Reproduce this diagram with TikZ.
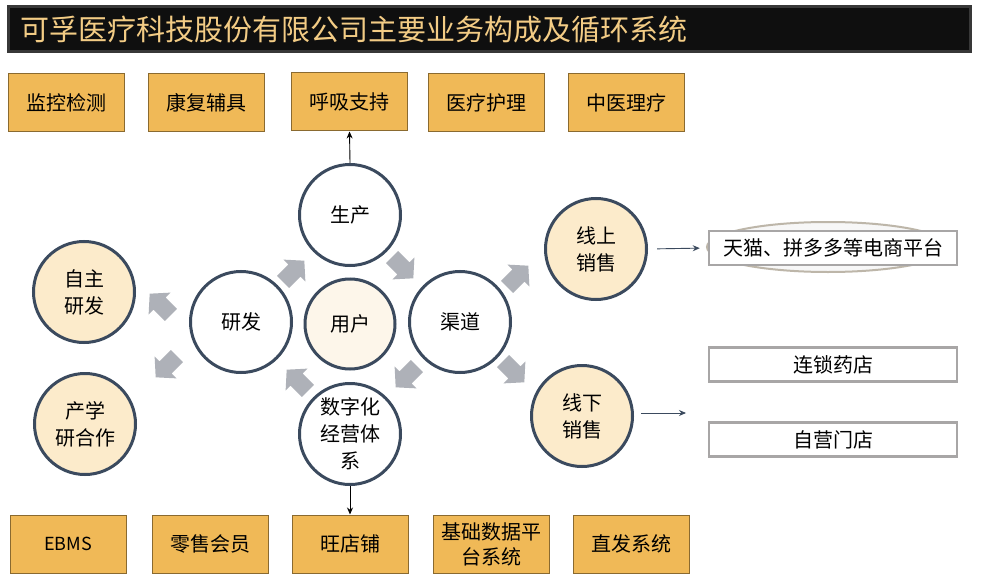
\documentclass[tikz,border=0pt]{standalone}
\usepackage{fontspec}
\newfontfamily\cjk{Noto Sans CJK SC}
\usetikzlibrary{arrows.meta,shapes.geometric}
\definecolor{boxfill}{HTML}{F0B957}
\definecolor{boxline}{HTML}{8A6A30}
\definecolor{ringline}{HTML}{3B4A5E}
\definecolor{cream}{HTML}{FCEBCB}
\definecolor{lightcream}{HTML}{FDF6EA}
\definecolor{arrowgray}{HTML}{AEB1B8}
\definecolor{titlegold}{HTML}{F3CC85}
\definecolor{framegray}{HTML}{A8A6A6}
\definecolor{ellipseline}{HTML}{BDB6A9}
\tikzset{
  orangebox/.style={draw=boxline, line width=1pt, fill=boxfill, minimum width=116pt, minimum height=58pt, inner sep=2pt, align=center, font=\cjk\fontsize{20}{24}\selectfont},
  ring/.style={circle, draw=ringline, line width=3pt, minimum size=101pt, inner sep=0pt, align=center, font=\cjk\fontsize{20}{27}\selectfont},
  whitebox/.style={draw=framegray, line width=2.5pt, fill=white, minimum width=248pt, minimum height=34pt, inner sep=0pt, font=\cjk\fontsize{20}{24}\selectfont},
  thinarrow/.style={-{Stealth[length=7pt,width=6pt]}, line width=0.9pt},
}
\newcommand\grayblock[2]{\fill[arrowgray, shift={#1}, rotate=#2] (-14,-8.5) -- (2,-8.5) -- (2,-15.5) -- (16,0) -- (2,15.5) -- (2,8.5) -- (-14,8.5) -- cycle;}
\begin{document}
\begin{tikzpicture}[x=1pt, y=-1pt]
\useasboundingbox (0,0) rectangle (984,580);
\fill[white] (0,0) rectangle (984,580);
% title
\draw[fill=black!94, draw=black!78, line width=3pt] (8,7) rectangle (970,52);
\node[anchor=west, text=titlegold, font=\cjk\fontsize{29}{32}\selectfont, inner sep=0pt] (title) at (20,30) {可孚医疗科技股份有限公司主要业务构成及循环系统};
% top boxes
\node[orangebox] (t1) at (66,103) {监控检测};
\node[orangebox] (t2) at (206,103) {康复辅具};
\node[orangebox] (t3) at (349.5,102) {呼吸支持};
\node[orangebox] (t4) at (486,103) {医疗护理};
\node[orangebox] (t5) at (626,103) {中医理疗};
% bottom boxes
\node[orangebox, font=\cjk\fontsize{18}{22}\selectfont] (b1) at (68,544) {EBMS};
\node[orangebox] (b2) at (210,544) {零售会员};
\node[orangebox] (b3) at (350,544) {旺店铺};
\node[orangebox, font=\cjk\fontsize{20}{25}\selectfont] (b4) at (491,544) {基础数据平\\台系统};
\node[orangebox] (b5) at (631,544) {直发系统};
% circles
\node[ring, fill=white] (sc) at (350,215) {生产};
\node[ring, fill=lightcream, minimum size=90pt] (yh) at (350,324) {用户};
\node[ring, fill=white] (yf) at (241,322) {研发};
\node[ring, fill=white] (qd) at (460,322) {渠道};
\node[ring, fill=white] (sz) at (350,434) {数字化\\经营体\\系};
\node[ring, fill=cream] (xs) at (596,249) {线上\\销售};
\node[ring, fill=cream] (xx) at (582,416) {线下\\销售};
\node[ring, fill=cream] (zz) at (84,292) {自主\\研发};
\node[ring, fill=cream] (cx) at (85,424) {产学\\研合作};
% right boxes
\draw[draw=ellipseline, line width=2pt, fill=black!3] (828,247) ellipse (121pt and 25pt);
\node[whitebox] (tm) at (833,248) {天猫、拼多多等电商平台};
\node[whitebox] (ls) at (833,364.5) {连锁药店};
\node[whitebox] (zy) at (833,439.5) {自营门店};
% thin arrows
\draw[thinarrow, black] (sc.north) -- (t3.south);
\draw[thinarrow, black] (sz.south) -- (b3.north);
\draw[thinarrow, ringline, shorten <=9pt, shorten >=8pt] (xs.east) -- (tm.west);
\coordinate (xxend) at (686,413);
\coordinate (xxstart) at (641,413);
\draw[thinarrow, ringline] (xxstart) -- (xxend);
% gray block arrows
\grayblock{(293,272)}{45}
\grayblock{(402,267)}{-45}
\grayblock{(517,277)}{45}
\grayblock{(513,371)}{-45}
\grayblock{(407,376)}{-135}
\grayblock{(298,381)}{135}
\grayblock{(161,305)}{135}
\grayblock{(167,366)}{-135}
\end{tikzpicture}
\end{document}
